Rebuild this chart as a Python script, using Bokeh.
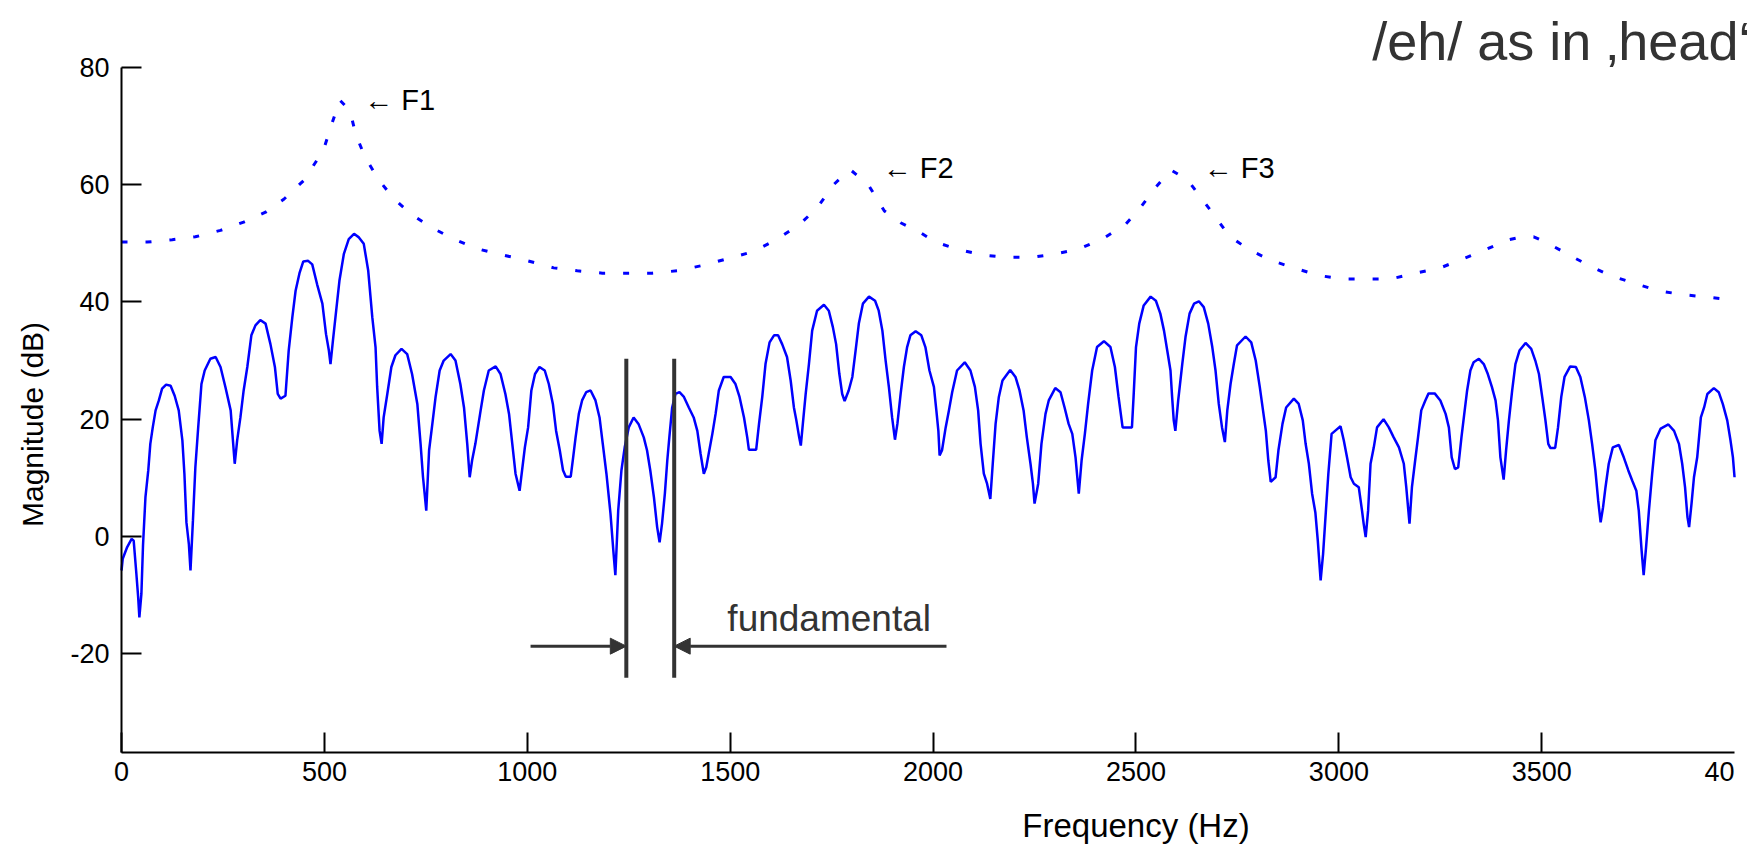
import math
from bokeh.plotting import figure
from bokeh.models import Range1d, FixedTicker, Label, Arrow, NormalHead, ColumnDataSource
from bokeh.core.properties import value
from bokeh.embed import file_html
from bokeh.resources import INLINE

# ---------------- data ----------------
# harmonic spectrum (solid line): frequency in Hz, magnitude in dB
spec_freq = [
    0, 3, 14, 25, 30, 36, 41, 44, 49, 53, 59, 66, 71, 77, 84, 92, 100, 110, 121, 131,
    141, 150, 155, 160, 166, 170, 176, 182, 189, 197, 205, 219, 232, 244, 256, 269, 274, 279, 285, 293,
    301, 310, 320, 330, 342, 355, 367, 378, 385, 392, 404, 412, 421, 429, 439, 448, 460, 470, 482, 495,
    504, 511, 515, 521, 529, 537, 548, 560, 573, 585, 597, 608, 618, 626, 630, 636, 641, 646, 655, 665,
    675, 690, 704, 716, 729, 737, 743, 747, 751, 758, 766, 774, 784, 794, 811, 823, 835, 844, 852, 858,
    864, 872, 885, 893, 905, 922, 934, 946, 955, 963, 971, 981,
    994, 1002, 1010, 1019, 1030, 1043, 1053, 1063, 1071, 1080, 1088, 1095, 1107, 1113, 1119, 1127, 1135, 1145,
    1156, 1168, 1178, 1186, 1195, 1205, 1212, 1217, 1224, 1232, 1240, 1250, 1262, 1274, 1287, 1295, 1303, 1312,
    1320, 1326, 1332, 1339, 1345, 1350, 1357, 1365, 1375, 1386, 1398, 1410, 1419, 1427, 1435, 1441, 1447, 1456,
    1464, 1472, 1484, 1501, 1513, 1523, 1534, 1542, 1546, 1564, 1571, 1579, 1587, 1597, 1608, 1618, 1628, 1640,
    1649, 1657, 1663, 1670, 1674, 1679, 1686, 1694, 1702, 1714, 1731, 1743, 1753, 1761, 1769, 1776, 1782, 1792,
    1801, 1809, 1817, 1827, 1842, 1857, 1866, 1875, 1883, 1891, 1899, 1906, 1912, 1920, 1928, 1936, 1944, 1957,
    1971, 1981, 1991, 2002, 2008, 2013, 2016, 2022, 2031, 2039, 2047, 2059, 2078, 2092, 2103, 2111, 2117, 2125,
    2133, 2141, 2147, 2154, 2162, 2171, 2190, 2203, 2213, 2223, 2231, 2240, 2246, 2250, 2259, 2267, 2277, 2285,
    2301, 2314, 2324, 2334, 2343, 2351, 2359, 2366, 2374, 2382, 2392, 2404, 2421, 2437, 2448, 2457, 2467, 2490,
    2494, 2500, 2508, 2519, 2536, 2549, 2560, 2569, 2577, 2585, 2589, 2593, 2597, 2604, 2614, 2622, 2632, 2643,
    2655, 2667, 2678, 2688, 2696, 2704, 2712, 2719, 2725, 2733, 2741, 2749, 2770, 2784, 2795, 2805, 2813, 2820,
    2826, 2832, 2844, 2851, 2861, 2870, 2889, 2901, 2911, 2918, 2926, 2934, 2942, 2948, 2955,
    2961, 2968, 2974, 2982, 2992, 3004, 3012, 3020, 3029, 3037, 3049, 3057, 3061, 3066, 3072, 3078, 3086, 3094,
    3110, 3123, 3135, 3148, 3160, 3166, 3174, 3180, 3188, 3195, 3203, 3213, 3221, 3236, 3250, 3263, 3271, 3278,
    3286, 3294, 3302, 3310, 3316, 3324, 3332, 3345, 3357, 3367, 3377, 3386, 3392, 3398, 3406, 3412, 3419, 3427,
    3435, 3445, 3460, 3474, 3484, 3493, 3501, 3509, 3516, 3521, 3533, 3540, 3548, 3556, 3570, 3584, 3595, 3606,
    3616, 3624, 3632, 3639, 3645, 3651, 3657, 3665, 3675, 3690, 3702, 3713, 3723, 3733, 3739, 3746, 3751, 3757,
    3764, 3772, 3780, 3793, 3812, 3826, 3838, 3846, 3853, 3859, 3863, 3869, 3875, 3883, 3892, 3900, 3908, 3924,
    3936, 3946, 3957, 3965, 3971, 3975,
]
spec_db = [
    -5.8, -3.8, -1.8, -0.4, -0.7, -5.8, -10.3, -13.8, -9.8, -1.5, 6.7, 11.3, 15.8, 18.6, 21.5, 23.2, 25.2, 25.9, 25.7, 24.0,
    21.5, 16.4, 10.7, 2.4, -1.3, -5.8, 2.7, 11.8, 18.6, 26.0, 28.3, 30.3, 30.6, 28.9, 25.5, 21.5, 16.9, 12.4, 16.4, 20.3,
    24.9, 28.9, 34.3, 36.0, 36.9, 36.3, 32.8, 28.9, 24.3, 23.5, 24.0, 31.7, 37.4, 41.9, 45.0, 46.9, 47.0, 46.4, 43.0, 39.7,
    34.5, 31.7, 29.4, 33.4, 38.5, 43.6, 48.2, 50.7, 51.6, 51.0, 49.9, 45.3, 37.4, 32.3, 25.5, 18.0, 15.8, 20.3, 24.3, 28.9,
    30.9, 32.0, 31.1, 27.7, 22.6, 15.8, 10.1, 7.3, 4.4, 14.7, 19.2, 23.8, 28.3, 30.0, 31.1, 30.0, 26.0, 22.0, 15.8, 10.1,
    13.0, 15.8, 21.5, 24.9, 28.3, 29.0, 27.7, 24.3, 20.9, 15.8, 10.7, 7.8,
    15.2, 18.6, 24.9, 27.7, 28.9, 28.3, 26.0, 22.6, 18.0, 14.7, 11.3, 10.2, 10.2, 13.5, 16.9, 20.9, 23.2, 24.6,
    24.9, 23.2, 20.3, 15.8, 10.7, 3.9, -2.4, -6.6, 4.4, 11.3, 15.2, 18.6, 20.3, 19.2, 16.9, 14.7, 11.3, 6.7,
    1.6, -1.0, 2.2, 7.3, 13.0, 16.9, 22.0, 24.3, 24.6, 23.8, 22.0, 20.3, 18.0, 14.1, 10.7, 11.8, 14.1, 17.5,
    20.9, 24.9, 27.2, 27.2, 26.0, 23.8, 20.3, 16.9, 14.8, 14.8, 19.2, 23.8, 29.4, 33.1, 34.3, 34.3, 32.8, 30.6,
    26.6, 22.0, 19.8, 16.9, 15.5, 19.2, 24.3, 29.4, 35.1, 38.5, 39.5, 38.5, 35.7, 32.8, 27.7, 24.3, 23.1, 24.9,
    27.2, 31.7, 36.3, 39.7, 40.9, 40.2, 38.5, 35.1, 30.0, 25.5, 20.3, 16.5, 19.2, 24.3, 28.9, 32.3, 34.3, 35.0,
    34.3, 32.3, 28.3, 25.5, 21.5, 18.0, 13.8, 14.7, 18.6, 21.5, 24.6, 28.3, 29.7, 28.3, 25.5, 21.5, 15.8, 10.7,
    9.0, 6.4, 12.4, 19.2, 23.8, 26.6, 28.4, 27.2, 24.9, 21.5, 16.9, 12.4, 9.0, 5.6, 9.0, 15.8, 20.9, 23.2,
    25.3, 24.6, 22.0, 19.2, 17.5, 13.5, 7.3, 13.0, 17.5, 22.6, 28.3, 32.3, 33.3, 32.3, 28.9, 23.8, 18.6, 18.6,
    23.8, 32.3, 36.3, 39.4, 40.9, 40.2, 38.0, 35.1, 31.7, 28.3, 23.8, 19.8, 18.0, 23.2, 29.4, 34.0, 38.0, 39.7,
    40.1, 39.1, 36.3, 32.3, 28.3, 22.6, 18.6, 16.1, 21.5, 26.0, 29.4, 32.6, 34.1, 33.1, 30.0, 25.5, 21.5, 18.0,
    13.0, 9.3, 10.1, 14.7, 19.2, 22.0, 23.5, 22.6, 19.8, 15.8, 12.4, 7.3, 4.1, -0.7, -7.5,
    -3.0, 4.4, 10.7, 17.5, 18.1, 18.8, 16.4, 13.5, 10.1, 9.0, 8.4, 4.4, 2.2, -0.1, 4.4, 12.4, 15.2, 18.6,
    20.0, 18.6, 16.9, 15.2, 12.4, 8.4, 2.2, 8.4, 13.0, 16.9, 21.5, 23.2, 24.4, 24.4, 23.2, 20.9, 18.6, 13.5,
    11.5, 11.8, 16.9, 21.5, 24.9, 28.3, 29.7, 30.3, 29.4, 27.7, 25.5, 23.2, 19.8, 13.5, 9.7, 14.7, 19.8, 24.9,
    29.4, 31.7, 33.0, 32.0, 30.0, 27.7, 23.8, 19.8, 15.8, 15.1, 15.1, 18.6, 23.8, 27.2, 29.0, 28.9, 27.2, 23.8,
    19.8, 15.8, 11.3, 6.1, 2.4, 5.0, 8.4, 12.4, 15.2, 15.6, 13.5, 11.3, 9.5, 7.8, 4.4, -2.4, -6.6, -1.8,
    4.4, 10.7, 16.4, 18.4, 19.1, 18.0, 15.8, 12.4, 8.4, 3.3, 1.6, 5.6, 10.1, 13.5, 20.3, 22.0, 24.3, 25.3,
    24.6, 22.6, 19.8, 16.4, 13.5, 10.1,
]

# spectral envelope (dotted line)
env_freq = [
    0, 63, 125, 182, 244, 301, 355, 400, 449, 482, 500, 519, 538, 563, 577, 600, 634, 671, 715, 766,
    819, 880, 932, 991, 1065, 1123, 1185, 1246, 1308, 1369, 1431, 1490, 1558, 1616, 1669, 1714, 1755, 1795, 1840, 1880,
    1920, 1969, 2006, 2059, 2121, 2183, 2244, 2302, 2359, 2421, 2474, 2510, 2548, 2586, 2627, 2685, 2729, 2778, 2836, 2889,
    2951, 3008, 3070, 3127, 3189, 3250, 3304, 3361, 3419, 3451, 3480, 3509, 3562, 3616, 3669, 3731, 3788, 3846, 3910, 3975,
]
env_db = [
    50.2, 50.2, 50.6, 51.1, 52.2, 53.6, 55.3, 57.5, 60.7, 64.2, 66.4, 70.5, 74.4, 72.6, 68.6, 64.7, 60.8, 57.6, 54.9, 52.6,
    50.7, 49.0, 48.1, 47.2, 45.8, 45.3, 44.9, 44.9, 44.9, 45.3, 46.2, 47.3, 48.6, 50.7, 53.1, 56.0, 60.0, 62.6, 60.0, 55.5,
    53.5, 51.8, 50.2, 49.0, 48.0, 47.6, 47.6, 48.2, 49.0, 50.9, 53.2, 56.0, 59.5, 62.5, 60.8, 55.5, 51.3, 48.9, 47.0, 45.8,
    44.5, 43.9, 43.9, 43.9, 44.9, 45.8, 47.3, 48.9, 50.6, 51.1, 51.1, 50.2, 48.2, 46.2, 44.5, 43.1, 41.9, 41.25, 40.8, 40.3,
]

# axes
x_min, x_max = 0, 3975          # visible part of the frequency axis
y_min, y_max = -36.8, 80         # magnitude axis limits
x_ticks = [0, 500, 1000, 1500, 2000, 2500, 3000, 3500]
y_ticks = [-20, 0, 20, 40, 60, 80]
cut_tick_label = "40"            # the 4000 label, cut off at the right edge

# annotations
formant_names = ["\u2190 F1", "\u2190 F2", "\u2190 F3"]
formant_label_x = [598, 1876, 2667]
formant_label_y = [74.4, 62.8, 62.8]

fund_lines_x = [1244, 1362]
fund_line_bottom = -24.1
fund_line_top = 30.3
arrow_y = -18.7
arrow_left_start = 1008
arrow_right_start = 2033

title_text = "/eh/ as in \u201ahead\u2018"
x_label = "Frequency (Hz)"
y_label = "Magnitude (dB)"

# ---------------- figure ----------------
FONT = "Liberation Sans"
DARK = "#333333"
BLUE = "#0000ff"

# The frame fills the whole canvas; the axes are drawn at fixed positions inside it.
p = figure(width=1756, height=846, output_backend="svg", toolbar_location=None,
           x_range=Range1d(-298.2, 4029.1), y_range=Range1d(-52.86, 91.39),
           min_border=0, min_border_left=0, min_border_right=0, min_border_top=0, min_border_bottom=0)
p.background_fill_color = "white"
p.border_fill_color = "white"
p.outline_line_color = None
p.grid.visible = False

xa = p.xaxis[0]
ya = p.yaxis[0]
xa.fixed_location = y_min
xa.bounds = (x_min, x_max)
ya.fixed_location = x_min
ya.bounds = (y_min, y_max)

for ax in (xa, ya):
    ax.axis_line_color = "black"
    ax.axis_line_width = 2
    ax.major_tick_line_color = "black"
    ax.major_tick_line_width = 2
    ax.major_tick_in = 20
    ax.major_tick_out = 0
    ax.minor_tick_line_color = None
    ax.major_label_text_font = FONT
    ax.major_label_text_font_size = "27px"
    ax.major_label_text_color = "black"

xa.ticker = FixedTicker(ticks=x_ticks)
ya.ticker = FixedTicker(ticks=y_ticks)
ya.major_label_overrides = {t: str(t) for t in y_ticks}
xa.major_label_standoff = 10
ya.major_label_standoff = 12

# envelope (dotted) and harmonic spectrum (solid)
p.line(env_freq, env_db, line_color=BLUE, line_width=3, line_dash="6 18", line_cap="butt")
p.line(spec_freq, spec_db, line_color=BLUE, line_width=2.5)

# formant labels
fsrc = ColumnDataSource(dict(x=formant_label_x, y=formant_label_y, t=formant_names))
p.text(x="x", y="y", text="t", source=fsrc, text_font=value(FONT), text_font_size="29px",
       text_color="black", text_align="left", text_baseline="alphabetic")

# fundamental marker
p.segment(x0=fund_lines_x, y0=[fund_line_bottom] * 2, x1=fund_lines_x, y1=[fund_line_top] * 2,
          line_color=DARK, line_width=4)
p.add_layout(Arrow(end=NormalHead(size=16, fill_color=DARK, line_color=DARK),
                   x_start=arrow_left_start, y_start=arrow_y, x_end=fund_lines_x[0], y_end=arrow_y,
                   line_color=DARK, line_width=3))
p.add_layout(Arrow(end=NormalHead(size=16, fill_color=DARK, line_color=DARK),
                   x_start=arrow_right_start, y_start=arrow_y, x_end=fund_lines_x[1], y_end=arrow_y,
                   line_color=DARK, line_width=3))
p.add_layout(Label(x=1493, y=-13.9, text="fundamental", text_font=FONT, text_font_size="37px",
                   text_color=DARK, text_align="left", text_baseline="alphabetic"))

# axis titles, cut-off last tick label and slide title
p.add_layout(Label(x=-219, y=19.1, text=y_label, angle=math.pi / 2, text_font=FONT,
                   text_font_size="30px", text_color="black", text_align="center", text_baseline="middle"))
p.add_layout(Label(x=2500, y=-49.2, text=x_label, text_font=FONT, text_font_size="33px",
                   text_color="black", text_align="center", text_baseline="alphabetic"))
p.add_layout(Label(x=x_max, y=-38.5, text=cut_tick_label, text_font=FONT, text_font_size="27px",
                   text_color="black", text_align="right", text_baseline="top"))
p.add_layout(Label(x=3082, y=84.4, text=title_text, text_font=FONT, text_font_size="54px",
                   text_color=DARK, text_align="left", text_baseline="alphabetic"))

open("out.html", "w").write(file_html(p, INLINE))
